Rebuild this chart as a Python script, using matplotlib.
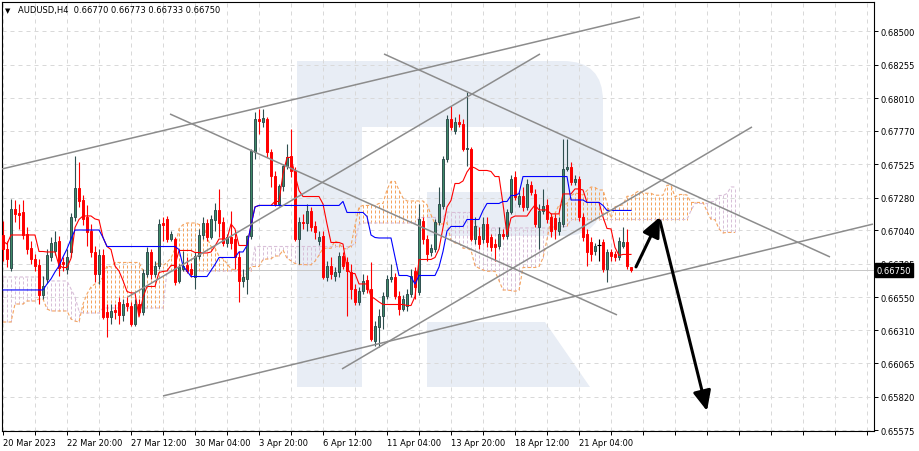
import numpy as np
import pandas as pd
import matplotlib
matplotlib.use("Agg")
import matplotlib.pyplot as plt
from matplotlib.patches import Rectangle, Polygon, FancyBboxPatch
from matplotlib.transforms import Affine2D, blended_transform_factory

# ---------------- data (AUDUSD H4, bar 0 = 20 Mar 2023 04:00) ----------------
opens = [
    .67007, .66905, .66765, .67198, .67169, .67176, .67014, .66912, .66831, .66787,
    .66567, .66685, .66846, .66890, .66963, .66809, .66758, .66883, .67139, .67351,
    .67264, .67139, .67036, .66883, .66721, .66861, .66443, .66406, .66457, .66516,
    .66421, .66509, .66487, .66354, .66501, .66443, .66721, .66883, .66721, .66780,
    .67095, .67124, .66978, .66978, .66670, .66758, .66787, .66758, .66699, .66853,
    .67007, .67095, .66993, .67117, .67190, .67102, .66949, .66993, .66978, .66846,
    .66670, .66685, .67000, .67616, .67857, .67835, .67857, .67616, .67440, .67234,
    .67366, .67513, .67586, .67476, .66978, .67102, .67095, .67183, .67073, .66963,
    .67000, .66699, .66780, .66707, .66736, .66853, .66809, .66736, .66611, .66516,
    .66597, .66677, .66611, .66230, .66333, .66413, .66560, .66685, .66699, .66560,
    .66465, .66487, .66575, .66743, .66589, .67109, .66978, .66883, .66905, .67102,
    .67220, .67564, .67857, .67769, .67835, .67821, .67638, .67638, .66978, .67000,
    .66978, .67087, .66993, .66941, .66927, .67014, .67000, .67176, .67432, .67234,
    .67293, .67212, .67373, .67308, .67066, .67183, .67227, .67139, .67131, .67036,
    .67087, .67491, .67505, .67395, .67418, .67139, .67014, .66956, .66890, .66934,
    .66956, .66758, .66883, .66868, .66846, .66927, .66956, .66770]
highs = [
    .67109, .66963, .67271, .67264, .67234, .67264, .67066, .66963, .66868, .66831,
    .66707, .66905, .66993, .67036, .67000, .66846, .66905, .67169, .67586, .67542,
    .67300, .67227, .67087, .66927, .66905, .66905, .66501, .66501, .66501, .66553,
    .66538, .66553, .66516, .66538, .66538, .66758, .66919, .66905, .66816, .67124,
    .67139, .67146, .67036, .66993, .66794, .66890, .66846, .66802, .66883, .67051,
    .67139, .67124, .67154, .67242, .67344, .67139, .67014, .67183, .67036, .66890,
    .66758, .67007, .67638, .67909, .67931, .67931, .67872, .67638, .67476, .67381,
    .67527, .67674, .67784, .67505, .67139, .67161, .67234, .67212, .67109, .67036,
    .67036, .66816, .66846, .66773, .66883, .66883, .66846, .66794, .66648, .66626,
    .66721, .66714, .66809, .66376, .66465, .66589, .66714, .66794, .66729, .66597,
    .66567, .66611, .66758, .66773, .67234, .67139, .67007, .66941, .67124, .67359,
    .67586, .67887, .67953, .67872, .67894, .67857, .68055, .67652, .67139, .67066,
    .67139, .67139, .67014, .66978, .67066, .67051, .67198, .67447, .67476, .67322,
    .67359, .67418, .67403, .67344, .67234, .67344, .67271, .67169, .67161, .67139,
    .67711, .67711, .67542, .67447, .67440, .67169, .67051, .66993, .66949, .66978,
    .66978, .66905, .66905, .66890, .66993, .67066, .67051, .66773]
lows = [
    .66816, .66772, .66743, .67102, .67051, .66978, .66868, .66794, .66743, .66501,
    .66538, .66656, .66816, .66861, .66707, .66743, .66721, .66846, .67109, .67212,
    .67080, .66927, .66846, .66663, .66648, .66391, .66259, .66354, .66391, .66354,
    .66376, .66450, .66340, .66340, .66421, .66421, .66699, .66685, .66699, .66758,
    .66963, .66956, .66963, .66641, .66656, .66743, .66729, .66699, .66611, .66831,
    .66978, .66963, .66978, .67036, .66993, .66927, .66919, .66905, .66758, .66516,
    .66626, .66575, .66978, .67564, .67747, .67798, .67579, .67359, .67220, .67220,
    .67329, .67491, .67432, .66963, .66794, .67051, .67036, .67036, .66978, .66934,
    .66685, .66670, .66685, .66670, .66699, .66758, .66413, .66538, .66494, .66494,
    .66575, .66582, .66230, .66193, .66186, .66318, .66538, .66663, .66538, .66421,
    .66450, .66450, .66553, .66538, .66567, .66941, .66816, .66853, .66883, .67080,
    .67198, .67542, .67777, .67747, .67798, .67623, .67513, .66963, .66941, .66905,
    .66949, .66919, .66890, .66816, .66905, .66978, .66978, .67161, .67264, .67212,
    .67183, .67190, .67300, .67066, .66905, .67161, .67095, .66993, .66978, .67007,
    .67066, .67476, .67373, .67373, .67109, .66963, .66780, .66816, .66861, .66816,
    .66736, .66663, .66816, .66816, .66824, .66912, .66758, .66733]
closes = [
    .66905, .66831, .67198, .67161, .67154, .67007, .66905, .66831, .66780, .66567,
    .66633, .66861, .66949, .66956, .66765, .66794, .66846, .67139, .67351, .67256,
    .67124, .67029, .66883, .66721, .66861, .66406, .66406, .66450, .66443, .66421,
    .66501, .66487, .66354, .66501, .66443, .66729, .66883, .66721, .66780, .67087,
    .67080, .66978, .67014, .66663, .66773, .66780, .66743, .66721, .66853, .67007,
    .67095, .66993, .67124, .67190, .67095, .66949, .66993, .66949, .66846, .66670,
    .66699, .67000, .67623, .67857, .67842, .67864, .67616, .67440, .67234, .67366,
    .67513, .67579, .67476, .66978, .67102, .67095, .67183, .67066, .67029, .66993,
    .66699, .66780, .66721, .66736, .66853, .66780, .66743, .66611, .66516, .66597,
    .66670, .66611, .66245, .66340, .66413, .66560, .66685, .66699, .66560, .66465,
    .66538, .66575, .66707, .66626, .67124, .66978, .66868, .66912, .67102, .67234,
    .67564, .67857, .67798, .67835, .67821, .67638, .67645, .66978, .67073, .66941,
    .67087, .66956, .66919, .66919, .67014, .67000, .67176, .67418, .67286, .67293,
    .67212, .67381, .67322, .67087, .67183, .67220, .67124, .67036, .67051, .67102,
    .67491, .67505, .67395, .67418, .67139, .66993, .66883, .66868, .66927, .66934,
    .66758, .66883, .66853, .66846, .66963, .66956, .66780, .66750]

# Ichimoku values on the first bars (they depend on history before the chart)
kijun_lead = [.66604] * 11 + [.66648, .66685, .66736, .66780, .66846, .66905, .66978]
spanA_lead = ([.66369] * 3 + [.66501] * 3 + [.66523] * 3 + [.66538] * 2 + [.66465]
              + [.66450] * 5 + [.66391, .66376, .66369, .66501, .66575, .66626,
                                .66648, .66656, .66699])
spanB_lead = ([.66699] * 11 + [.66670] * 6 + [.66611, .66553, .66450] + [.66435] * 5
              + [.66472] * 16 + [.66743] * 22)

y_ticks = [0.68500, 0.68255, 0.68010, 0.67770, 0.67525, 0.67280, 0.67040,
           0.66795, 0.66550, 0.66310, 0.66065, 0.65820, 0.65575]
x_tick_pos = [0, 16, 32, 48, 64, 80, 96, 112, 128, 144]
x_tick_labels = ["20 Mar 2023", "22 Mar 20:00", "27 Mar 12:00", "30 Mar 04:00",
                 "3 Apr 20:00", "6 Apr 12:00", "11 Apr 04:00", "13 Apr 20:00",
                 "18 Apr 12:00", "21 Apr 04:00"]
title_text = "AUDUSD,H4  0.66770 0.66773 0.66733 0.66750"
last_price = 0.66750

# trend lines: ((bar, price), (bar, price))
trend_lines = [
    ((-0.25, 0.67491), (159.25, 0.68605)),
    ((40.0, 0.65827), (217.5, 0.67087)),
    ((41.75, 0.67894), (153.5, 0.66421)),
    ((31.25, 0.66553), (134.25, 0.68334)),
    ((95.25, 0.68334), (206.75, 0.66846)),
    ((84.75, 0.66025), (187.25, 0.67799)),
]
arrows = [((158.25, 0.66773), (164.25, 0.67139)),
          ((164.25, 0.67109), (176.0, 0.65717))]

# ---------------- figure ----------------
W, H = 919, 452
plt.rcParams['font.family'] = ['DejaVu Sans']
fig = plt.figure(figsize=(W / 100, H / 100), dpi=100)
fig.patch.set_facecolor('white')
ax = fig.add_axes([2 / W, 1 - 432 / H, 872 / W, 429 / H])
ax.set_xlim(-0.25, 217.75)
ax.set_ylim(0.65570, 0.68715)

# pixel transform (x right, y down from top-left of the figure)
pxt = Affine2D().scale(1 / 100, -1 / 100).translate(0, H / 100) + fig.dpi_scale_trans

# watermark logo
wm = '#E8EDF5'
shapes = [
    Polygon([(297, 62), (362, 62), (362, 388), (297, 388)], closed=True),
    Polygon([(362, 62), (560, 62), (560, 128), (362, 128)], closed=True),
    FancyBboxPatch((520, 62), 83, 175, boxstyle="round,pad=0,rounding_size=40"),
    Polygon([(427, 193), (570, 193), (570, 237), (427, 237)], closed=True),
    Polygon([(427, 323), (545, 323), (590, 388), (427, 388)], closed=True),
]
for s in shapes:
    s.set_transform(pxt)
    s.set_facecolor(wm)
    s.set_edgecolor('none')
    s.set_zorder(0.5)
    ax.add_patch(s)

# grid
gcol = '#d9d9d9'
for v in range(0, 218, 8):
    ax.axvline(v, color=gcol, lw=0.72, ls=(0, (4, 4)), zorder=1)
for t in y_ticks:
    ax.axhline(t, color=gcol, lw=0.72, ls=(0, (4, 4)), zorder=1)

# ---------------- Ichimoku ----------------
n = len(closes)
hs = pd.Series(highs[:n])
ls_ = pd.Series(lows[:n])
tenkan = (hs.rolling(9, min_periods=1).max() + ls_.rolling(9, min_periods=1).min()) / 2
kijun = (hs.rolling(26, min_periods=1).max() + ls_.rolling(26, min_periods=1).min()) / 2
kijun.iloc[:len(kijun_lead)] = kijun_lead
tenkan = tenkan.values
kijun = kijun.values
spanB_raw = ((hs.rolling(52, min_periods=1).max() + ls_.rolling(52, min_periods=1).min()) / 2).values

m = n + 26
spanA = np.full(m, np.nan)
spanB = np.full(m, np.nan)
spanA[26:] = (tenkan + kijun) / 2
spanB[26:] = spanB_raw
spanA[:len(spanA_lead)] = spanA_lead
spanB[:len(spanB_lead)] = spanB_lead

orange = '#F4A460'
lilac = '#D8BFD8'
xs = np.arange(m)
ok = np.isfinite(spanA) & np.isfinite(spanB)
cols = [orange if a >= b else lilac for a, b in zip(spanA[ok], spanB[ok])]
ax.vlines(xs[ok], np.minimum(spanA[ok], spanB[ok]), np.maximum(spanA[ok], spanB[ok]),
          colors=cols, linestyles=(0, (3, 2)), lw=0.72, zorder=2)
ax.plot(xs, spanB, color=lilac, lw=0.8, ls=(0, (3, 2)), zorder=2.2)
ax.plot(xs, spanA, color=orange, lw=0.8, ls=(0, (3, 2)), zorder=2.3)

# ---------------- candles ----------------
bull_face = '#3E8A68'
bull_edge = '#2F4F4F'
bw = 0.55
for i in range(n):
    o, h, l, c = opens[i], highs[i], lows[i], closes[i]
    if c > o:
        ax.vlines(i, l, h, color=bull_edge, lw=0.8, zorder=3)
        ax.add_patch(Rectangle((i - bw / 2, o), bw, c - o, facecolor=bull_face,
                               edgecolor=bull_edge, lw=0.7, zorder=3.5))
    elif c < o:
        ax.vlines(i, l, h, color='red', lw=0.8, zorder=3)
        ax.add_patch(Rectangle((i - bw / 2, c), bw, o - c, facecolor='red',
                               edgecolor='red', lw=0.7, zorder=3.5))
    else:
        ax.vlines(i, l, h, color='black', lw=0.8, zorder=3)
        ax.hlines(o, i - 0.4, i + 0.4, color='black', lw=0.8, zorder=3.5)

# tenkan / kijun
ax.plot(np.arange(n), tenkan, color='red', lw=0.8, zorder=4)
ax.plot(np.arange(n), kijun, color='blue', lw=0.8, zorder=4)

# price line
ax.axhline(last_price, color='#c8c8c8', lw=0.72, zorder=1.5)

# trend lines
for (x0, y0), (x1, y1) in trend_lines:
    ax.plot([x0, x1], [y0, y1], color='#8c8c8c', lw=1.1, zorder=5,
            solid_capstyle='butt')

# arrows
for (x0, y0), (x1, y1) in arrows:
    ax.annotate("", xy=(x1, y1), xytext=(x0, y0),
                arrowprops=dict(arrowstyle="-|>,head_length=1.0,head_width=0.45",
                                lw=2.2, color='black', shrinkA=0, shrinkB=0,
                                mutation_scale=12),
                zorder=6)

# ---------------- axes styling ----------------
for sp in ax.spines.values():
    sp.set_color('black')
    sp.set_linewidth(0.8)
ax.yaxis.tick_right()
ax.set_yticks(y_ticks)
ax.set_yticklabels([f"{t:.5f}" for t in y_ticks])
ax.set_xticks(x_tick_pos)
ax.set_xticklabels(x_tick_labels, ha='left')
ax.set_xticks(range(0, 218, 8), minor=True)
ax.tick_params(axis='both', which='both', direction='out', length=3, width=0.7,
               labelsize=6, pad=2, colors='black')
ax.tick_params(axis='y', which='minor', length=0)

# current price label (covers the nearby tick label, as in the terminal)
bt = blended_transform_factory(ax.transAxes, ax.transData)
ax.text(1.003, last_price, "0.66750", transform=bt, ha='left', va='center',
        color='white', fontsize=6, zorder=10, clip_on=False,
        bbox=dict(boxstyle='square,pad=0.25', fc='black', ec='black'))

# title
fig.text(5 / W, 1 - 11 / H, "\u25bc", fontsize=5, va='center', ha='left')
fig.text(18 / W, 1 - 11 / H, title_text, fontsize=6, va='center', ha='left')

fig.savefig("out.png", dpi=100, facecolor='white')
